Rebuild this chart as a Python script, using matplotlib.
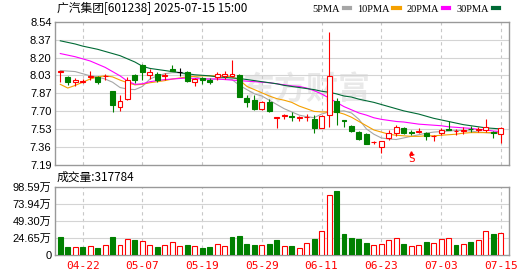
import numpy as np
import matplotlib.pyplot as plt
from matplotlib.transforms import ScaledTranslation

# trading days shown (04-17 .. 07-15)
dates = [
    "04-17", "04-18", "04-21", "04-22", "04-23", "04-24", "04-25", "04-28", "04-29", "04-30",
    "05-06", "05-07", "05-08", "05-09", "05-12", "05-13", "05-14", "05-15", "05-16", "05-19",
    "05-20", "05-21", "05-22", "05-23", "05-26", "05-27", "05-28", "05-29", "05-30", "06-03",
    "06-04", "06-05", "06-06", "06-09", "06-10", "06-11", "06-12", "06-13", "06-16", "06-17",
    "06-18", "06-19", "06-20", "06-23", "06-24", "06-25", "06-26", "06-27", "06-30", "07-01",
    "07-02", "07-03", "07-04", "07-07", "07-08", "07-09", "07-10", "07-11", "07-14", "07-15",
]

opens = [
    8.07, 8.02, 7.97, 7.975, 8.02, 8.02, 8.025, 7.89, 7.74, 7.81,
    8.035, 8.13, 8.04, 8.045, 8.03, 8.09, 8.065, 8.07, 7.97, 8.005,
    7.995, 8.02, 8.03, 8.03, 8.035, 7.825, 7.80, 7.715, 7.785, 7.63,
    7.65, 7.655, 7.63, 7.64, 7.62, 7.54, 7.665, 7.795, 7.61, 7.56,
    7.505, 7.48, 7.405, 7.36, 7.44, 7.495, 7.535, 7.50, 7.505, 7.49,
    7.46, 7.49, 7.53, 7.51, 7.515, 7.53, 7.52, 7.52, 7.505, 7.485,
]
highs = [
    8.08, 8.03, 8.01, 8.00, 8.08, 8.03, 8.045, 7.89, 7.85, 8.015,
    8.05, 8.14, 8.09, 8.07, 8.055, 8.13, 8.10, 8.08, 8.005, 8.02,
    8.005, 8.07, 8.08, 8.18, 8.05, 7.845, 7.845, 7.79, 7.81, 7.64,
    7.675, 7.685, 7.655, 7.675, 7.66, 7.66, 8.44, 7.82, 7.61, 7.565,
    7.51, 7.49, 7.415, 7.42, 7.52, 7.565, 7.545, 7.52, 7.535, 7.505,
    7.475, 7.535, 7.605, 7.53, 7.545, 7.555, 7.545, 7.62, 7.51, 7.55,
]
lows = [
    7.97, 7.945, 7.935, 7.96, 7.99, 7.95, 7.99, 7.69, 7.70, 7.80,
    7.96, 7.99, 8.00, 7.975, 7.99, 8.08, 8.03, 7.975, 7.935, 7.95,
    7.955, 7.99, 8.00, 8.02, 7.83, 7.74, 7.71, 7.71, 7.685, 7.535,
    7.625, 7.60, 7.60, 7.60, 7.495, 7.535, 7.55, 7.565, 7.545, 7.505,
    7.425, 7.385, 7.39, 7.305, 7.425, 7.465, 7.48, 7.475, 7.49, 7.43,
    7.42, 7.475, 7.52, 7.475, 7.485, 7.505, 7.50, 7.505, 7.44, 7.40,
]
closes = [
    8.08, 7.975, 7.99, 7.98, 8.03, 7.975, 8.03, 7.755, 7.79, 7.99,
    7.99, 8.07, 8.07, 7.995, 8.04, 8.08, 8.065, 7.98, 8.00, 7.99,
    7.975, 8.045, 8.045, 8.045, 7.835, 7.785, 7.72, 7.785, 7.70, 7.64,
    7.66, 7.645, 7.64, 7.645, 7.54, 7.65, 8.03, 7.685, 7.60, 7.515,
    7.435, 7.39, 7.41, 7.415, 7.495, 7.545, 7.49, 7.495, 7.515, 7.46,
    7.465, 7.52, 7.52, 7.515, 7.52, 7.525, 7.53, 7.55, 7.49, 7.535,
]

ma5 = [
    8.08, 8.075, 8.07, 8.05, 8.03, 8.02, 8.00, 7.97, 7.92, 7.905,
    7.90, 7.93, 8.00, 8.03, 8.05, 8.06, 8.06, 8.04, 8.02, 8.005,
    8.00, 8.00, 8.00, 7.995, 7.94, 7.90, 7.86, 7.84, 7.80, 7.76,
    7.72, 7.69, 7.66, 7.645, 7.636, 7.67, 7.69, 7.695, 7.70, 7.68,
    7.62, 7.53, 7.48, 7.445, 7.435, 7.43, 7.445, 7.46, 7.475, 7.49,
    7.50, 7.505, 7.51, 7.515, 7.515, 7.51, 7.50, 7.495, 7.49, 7.49,
]
ma10 = [
    7.95, 7.915, 7.94, 7.97, 8.00, 8.02, 8.03, 8.02, 7.99, 7.965,
    7.945, 7.95, 7.965, 7.975, 7.985, 8.00, 8.01, 8.02, 8.025, 8.03,
    8.03, 8.03, 8.03, 8.02, 7.99, 7.93, 7.90, 7.87, 7.84, 7.815,
    7.80, 7.78, 7.745, 7.72, 7.695, 7.69, 7.69, 7.69, 7.67, 7.64,
    7.60, 7.56, 7.52, 7.50, 7.48, 7.47, 7.465, 7.46, 7.46, 7.465,
    7.465, 7.47, 7.475, 7.48, 7.49, 7.495, 7.495, 7.495, 7.495, 7.50,
]
ma20 = [
    8.24, 8.225, 8.21, 8.19, 8.17, 8.14, 8.11, 8.07, 8.03, 7.98,
    7.95, 7.955, 7.975, 7.985, 7.995, 8.00, 8.005, 8.01, 8.005, 8.00,
    8.00, 8.00, 7.995, 7.99, 7.985, 7.98, 7.975, 7.97, 7.965, 7.955,
    7.945, 7.935, 7.93, 7.915, 7.89, 7.86, 7.82, 7.78, 7.74, 7.71,
    7.68, 7.66, 7.635, 7.62, 7.61, 7.60, 7.595, 7.585, 7.575, 7.57,
    7.565, 7.56, 7.55, 7.545, 7.54, 7.535, 7.525, 7.52, 7.51, 7.505,
]
ma30 = [
    8.36, 8.345, 8.33, 8.31, 8.295, 8.28, 8.26, 8.24, 8.22, 8.19,
    8.16, 8.12, 8.10, 8.09, 8.08, 8.07, 8.06, 8.05, 8.04, 8.035,
    8.03, 8.02, 8.015, 8.01, 8.005, 7.995, 7.985, 7.975, 7.965, 7.955,
    7.94, 7.93, 7.92, 7.91, 7.90, 7.885, 7.875, 7.86, 7.84, 7.83,
    7.81, 7.795, 7.78, 7.76, 7.74, 7.72, 7.70, 7.685, 7.67, 7.65,
    7.63, 7.615, 7.60, 7.585, 7.57, 7.56, 7.55, 7.54, 7.535, 7.53,
]

# volume in lots (手)
volumes = [
    259000, 118000, 113000, 118000, 127000, 104000, 142000, 259000, 142000, 226000,
    217000, 203000, 142000, 118000, 142000, 184000, 127000, 146000, 127000, 104000,
    118000, 156000, 127000, 259000, 274000, 160000, 146000, 146000, 160000, 217000,
    127000, 132000, 99000, 170000, 231000, 340000, 868000, 925000, 302000, 245000,
    231000, 175000, 142000, 156000, 212000, 241000, 160000, 127000, 142000, 189000,
    170000, 226000, 241000, 146000, 156000, 189000, 212000, 340000, 302000, 317784,
]
vol_up = [
    0, 0, 1, 0, 1, 0, 1, 0, 1, 1,
    0, 1, 1, 0, 1, 1, 1, 0, 1, 0,
    0, 1, 1, 0, 0, 0, 0, 1, 0, 0,
    1, 0, 1, 1, 0, 1, 1, 0, 0, 0,
    0, 0, 1, 1, 1, 1, 0, 1, 1, 0,
    1, 1, 1, 0, 1, 0, 1, 1, 0, 1,
]

price_range = (7.19, 8.54)
price_labels = ["7.19", "7.36", "7.53", "7.70", "7.87", "8.03", "8.20", "8.37", "8.54"]
vol_top = 98.59
vol_labels = ["0", "24.65万", "49.30万", "73.94万", "98.59万"]
signal_idx = 47
signal_text = "S"

RED = "#ff0000"
GREEN = "#008000"
FRAME = "#999999"
GRID = "#d4d4d4"
VGRID = "#c8c8c8"
num_font = ["Liberation Sans", "Noto Sans CJK SC"]

fig = plt.figure(figsize=(5.30, 2.76), dpi=100)
W, H = 530.0, 276.0
ax = fig.add_axes([55 / W, 1 - 165 / H, 454 / W, 143.3 / H])
axv = fig.add_axes([55 / W, 1 - 255 / H, 454 / W, 68.3 / H])

x = np.arange(len(dates))
o = np.array(opens)
c = np.array(closes)
hi = np.array(highs)
lo = np.array(lows)

ccol = np.where(c > o, RED, np.where(c < o, GREEN, "#000000"))
body_w = 0.66

# candles
ax.vlines(x, lo, hi, colors=ccol, lw=0.8, zorder=3)
for i in range(len(x)):
    face = "white" if c[i] > o[i] else ccol[i]
    ax.bar(x[i], abs(c[i] - o[i]), bottom=min(o[i], c[i]), width=body_w,
           facecolor=face, edgecolor=ccol[i], lw=0.8, zorder=4)

# moving averages
ax.plot(x, ma5, color="#a6a6a6", lw=0.8, label="5PMA", zorder=2)
ax.plot(x, ma10, color="#f5a000", lw=0.8, label="10PMA", zorder=2)
ax.plot(x, ma20, color="#ff00ff", lw=0.8, label="20PMA", zorder=2)
ax.plot(x, ma30, color="#006a35", lw=0.8, label="30PMA", zorder=2)

# signal marker under the candle
ax.annotate(signal_text, xy=(signal_idx, lo[signal_idx]), xytext=(0, -24),
            textcoords="offset pixels", ha="center", va="center",
            color=RED, fontsize=8, family="DejaVu Sans Mono", zorder=5)
ax.plot(signal_idx, lo[signal_idx], marker="^", ms=2.5, color=RED, zorder=5,
        transform=ax.transData + ScaledTranslation(0, -0.18, fig.dpi_scale_trans))

# watermark
ax.text(0.553, 0.52, "东方财富", transform=ax.transAxes, fontsize=23,
        color="#e9e9e9", fontweight="bold", ha="center", va="center",
        zorder=0, family=["Noto Sans CJK SC"])

ticks = x[3::8]
for a in (ax, axv):
    a.set_xlim(-0.71, len(x) + 0.1)
    a.set_xticks(ticks)
    for t in ticks:
        a.axvline(t, color=VGRID, lw=0.8, ls=(0, (3, 3)), zorder=1)
    for s in a.spines.values():
        s.set_color(FRAME)
        s.set_linewidth(1.0)
    a.tick_params(length=0)

ax.set_ylim(*price_range)
ax.set_yticks(np.linspace(price_range[0], price_range[1], len(price_labels)))
ax.set_yticklabels(price_labels, fontsize=8, family=num_font)
ax.set_xticklabels([])
for yv in ax.get_yticks()[1:-1]:
    ax.axhline(yv, color=GRID, lw=0.8, zorder=1)
ax.tick_params(axis="y", pad=2.5)

# volume
vcol = [RED if u else GREEN for u in vol_up]
vfac = ["white" if u else GREEN for u in vol_up]
axv.bar(x, np.array(volumes) / 1e4, width=body_w, facecolor=vfac,
        edgecolor=vcol, lw=0.8, zorder=3)
axv.set_ylim(0, vol_top)
vt = np.linspace(0, vol_top, len(vol_labels))
axv.set_yticks(vt)
axv.set_yticklabels(vol_labels, fontsize=8, family=num_font)
for yv in vt[1:-1]:
    axv.axhline(yv, color=GRID, lw=0.8, zorder=1)
axv.set_xticklabels([dates[i] for i in ticks], fontsize=8, color=RED,
                    family="DejaVu Sans Mono")
axv.tick_params(axis="x", pad=4)
axv.tick_params(axis="y", pad=2.5)

fig.text(57 / W, 1 - 9 / H, "广汽集团[601238] 2025-07-15 15:00", ha="left",
         va="center", fontsize=8.5, family=["Noto Sans CJK SC", "DejaVu Sans"])
fig.text(57 / W, 1 - 177 / H, f"成交量:{volumes[-1]}", ha="left", va="center",
         fontsize=8.5, family=["Noto Sans CJK SC", "DejaVu Sans"])

leg = ax.legend(loc="center right", bbox_to_anchor=(499 / W, 1 - 9 / H),
                bbox_transform=fig.transFigure, ncol=4, frameon=False,
                markerfirst=False, handlelength=0.6, handletextpad=0.35,
                columnspacing=0.7, borderpad=0, borderaxespad=0,
                prop={"family": "Liberation Serif", "size": 7.5})
for h in leg.get_lines():
    h.set_linewidth(3)

fig.savefig("out.png", dpi=100)
